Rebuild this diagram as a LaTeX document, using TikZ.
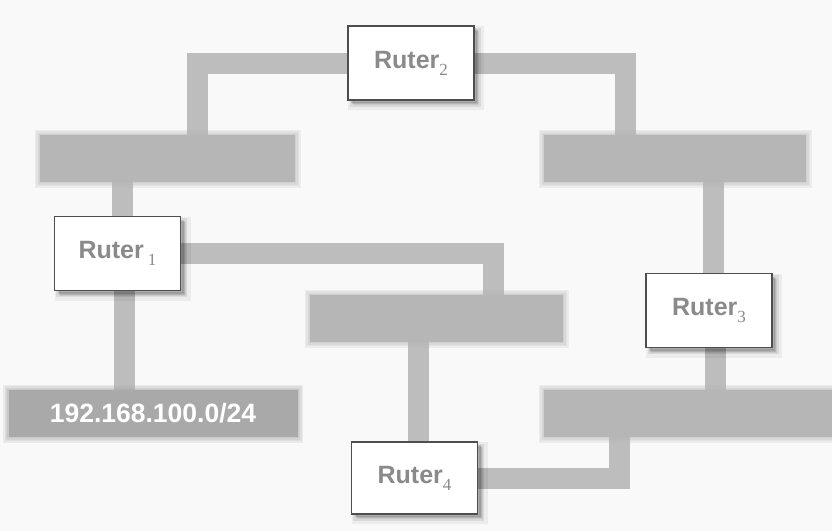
\documentclass[tikz,border=0pt]{standalone}
\usepackage{fontspec}
\setmainfont{Liberation Sans}
\newfontfamily\subfont{Liberation Serif}

\definecolor{paper}{HTML}{F9F9F9}
\definecolor{pipegray}{HTML}{BDBDBD}
\definecolor{bargray}{HTML}{B6B6B6}
\definecolor{langray}{HTML}{A9A9A9}
\definecolor{labelgray}{HTML}{8A8A8A}
\definecolor{edgegray}{HTML}{4E4E4E}

\pgfdeclarelayer{bg}
\pgfdeclarelayer{pipes}
\pgfsetlayers{bg,pipes,main}

% router caption: bold "Ruter" with a serif index set low
\newcommand\rlabel[2][]{{\bfseries Ruter}#1\raisebox{-0.28em}{\subfont\fontsize{17}{17}\selectfont #2}}

\tikzset{
  router/.style={draw=edgegray, line width=1.6pt, fill=white,
    minimum width=126pt, minimum height=74pt, inner sep=0pt,
    text=labelgray, font=\fontsize{25}{25}\selectfont,
    % soft drop shadow towards the lower right
    preaction={fill=black, fill opacity=0.07, draw=black, draw opacity=0.05,
      line width=10pt, transform canvas={shift={(5pt,-5pt)}}},
    preaction={fill=black, fill opacity=0.10, draw=black, draw opacity=0.08,
      line width=5pt, transform canvas={shift={(4pt,-4pt)}}},
    preaction={fill=black, fill opacity=0.12,
      transform canvas={shift={(3pt,-3pt)}}}},
  net/.style={fill=#1, inner sep=0pt, minimum height=47pt,
    % feathered rim, built from nested translucent strokes
    preaction={draw=#1, line width=11pt, draw opacity=0.18},
    preaction={draw=#1, line width=8pt, draw opacity=0.18},
    preaction={draw=#1, line width=5pt, draw opacity=0.2},
    preaction={draw=#1, line width=2.5pt, draw opacity=0.25}},
  net/.default=bargray,
  pipe/.style={draw=pipegray, line width=21pt, line join=miter}
}

\begin{document}
\begin{tikzpicture}[x=1pt, y=-1pt]
  \useasboundingbox (0,0) rectangle (832,531);
  \begin{pgfonlayer}{bg}
    \fill[paper] (0,0) rectangle (832,531);
  \end{pgfonlayer}

  % network segments
  \node[net, minimum width=255pt] (n12) at (167.5,158.5) {};
  \node[net, minimum width=262pt] (n23) at (675,158.5) {};
  \node[net, minimum width=253pt] (n13) at (436.5,318.5) {};
  \node[net, minimum width=288pt] (n34) at (688,413.5) {};
  \node[net=langray, minimum width=289pt, text=white,
        font=\bfseries\fontsize{26.5}{26.5}\selectfont] (lan) at (153,413.5) {192.168.100.0/24};

  % routers
  \node[router] (R1) at (117.5,253.5) {\rlabel[\,]{1}};
  \node[router] (R2) at (411,63) {\rlabel{2}};
  \node[router] (R3) at (709,310.5) {\rlabel{3}};
  \node[router, minimum height=72pt] (R4) at (414.5,478) {\rlabel{4}};

  % attachment points of the vertical links
  \coordinate (a1) at ([xshift=5pt]R1.north);
  \coordinate (a2) at ([xshift=6.5pt]R1.south);
  \coordinate (a3) at ([xshift=4.5pt]R3.north);
  \coordinate (a4) at ([xshift=6pt]R3.south);
  \coordinate (a5) at ([xshift=4pt]R4.north);

  % links between routers and segments
  \begin{pgfonlayer}{pipes}
    \draw[pipe] (R2.west) -| ([xshift=30pt]n12.north);
    \draw[pipe] (R2.east) -| ([xshift=-49.5pt]n23.north);
    \draw[pipe] (a1) -- (a1 |- n12.south);
    \draw[pipe] (a2) -- (a2 |- lan.north);
    \draw[pipe] (R1.east) -| ([xshift=57pt]n13.north);
    \draw[pipe] (a3) -- (a3 |- n23.south);
    \draw[pipe] (a4) -- (a4 |- n34.north);
    \draw[pipe] (a5) -- (a5 |- n13.south);
    \draw[pipe] (R4.east) -| ([xshift=-69pt]n34.south);
  \end{pgfonlayer}
\end{tikzpicture}
\end{document}
